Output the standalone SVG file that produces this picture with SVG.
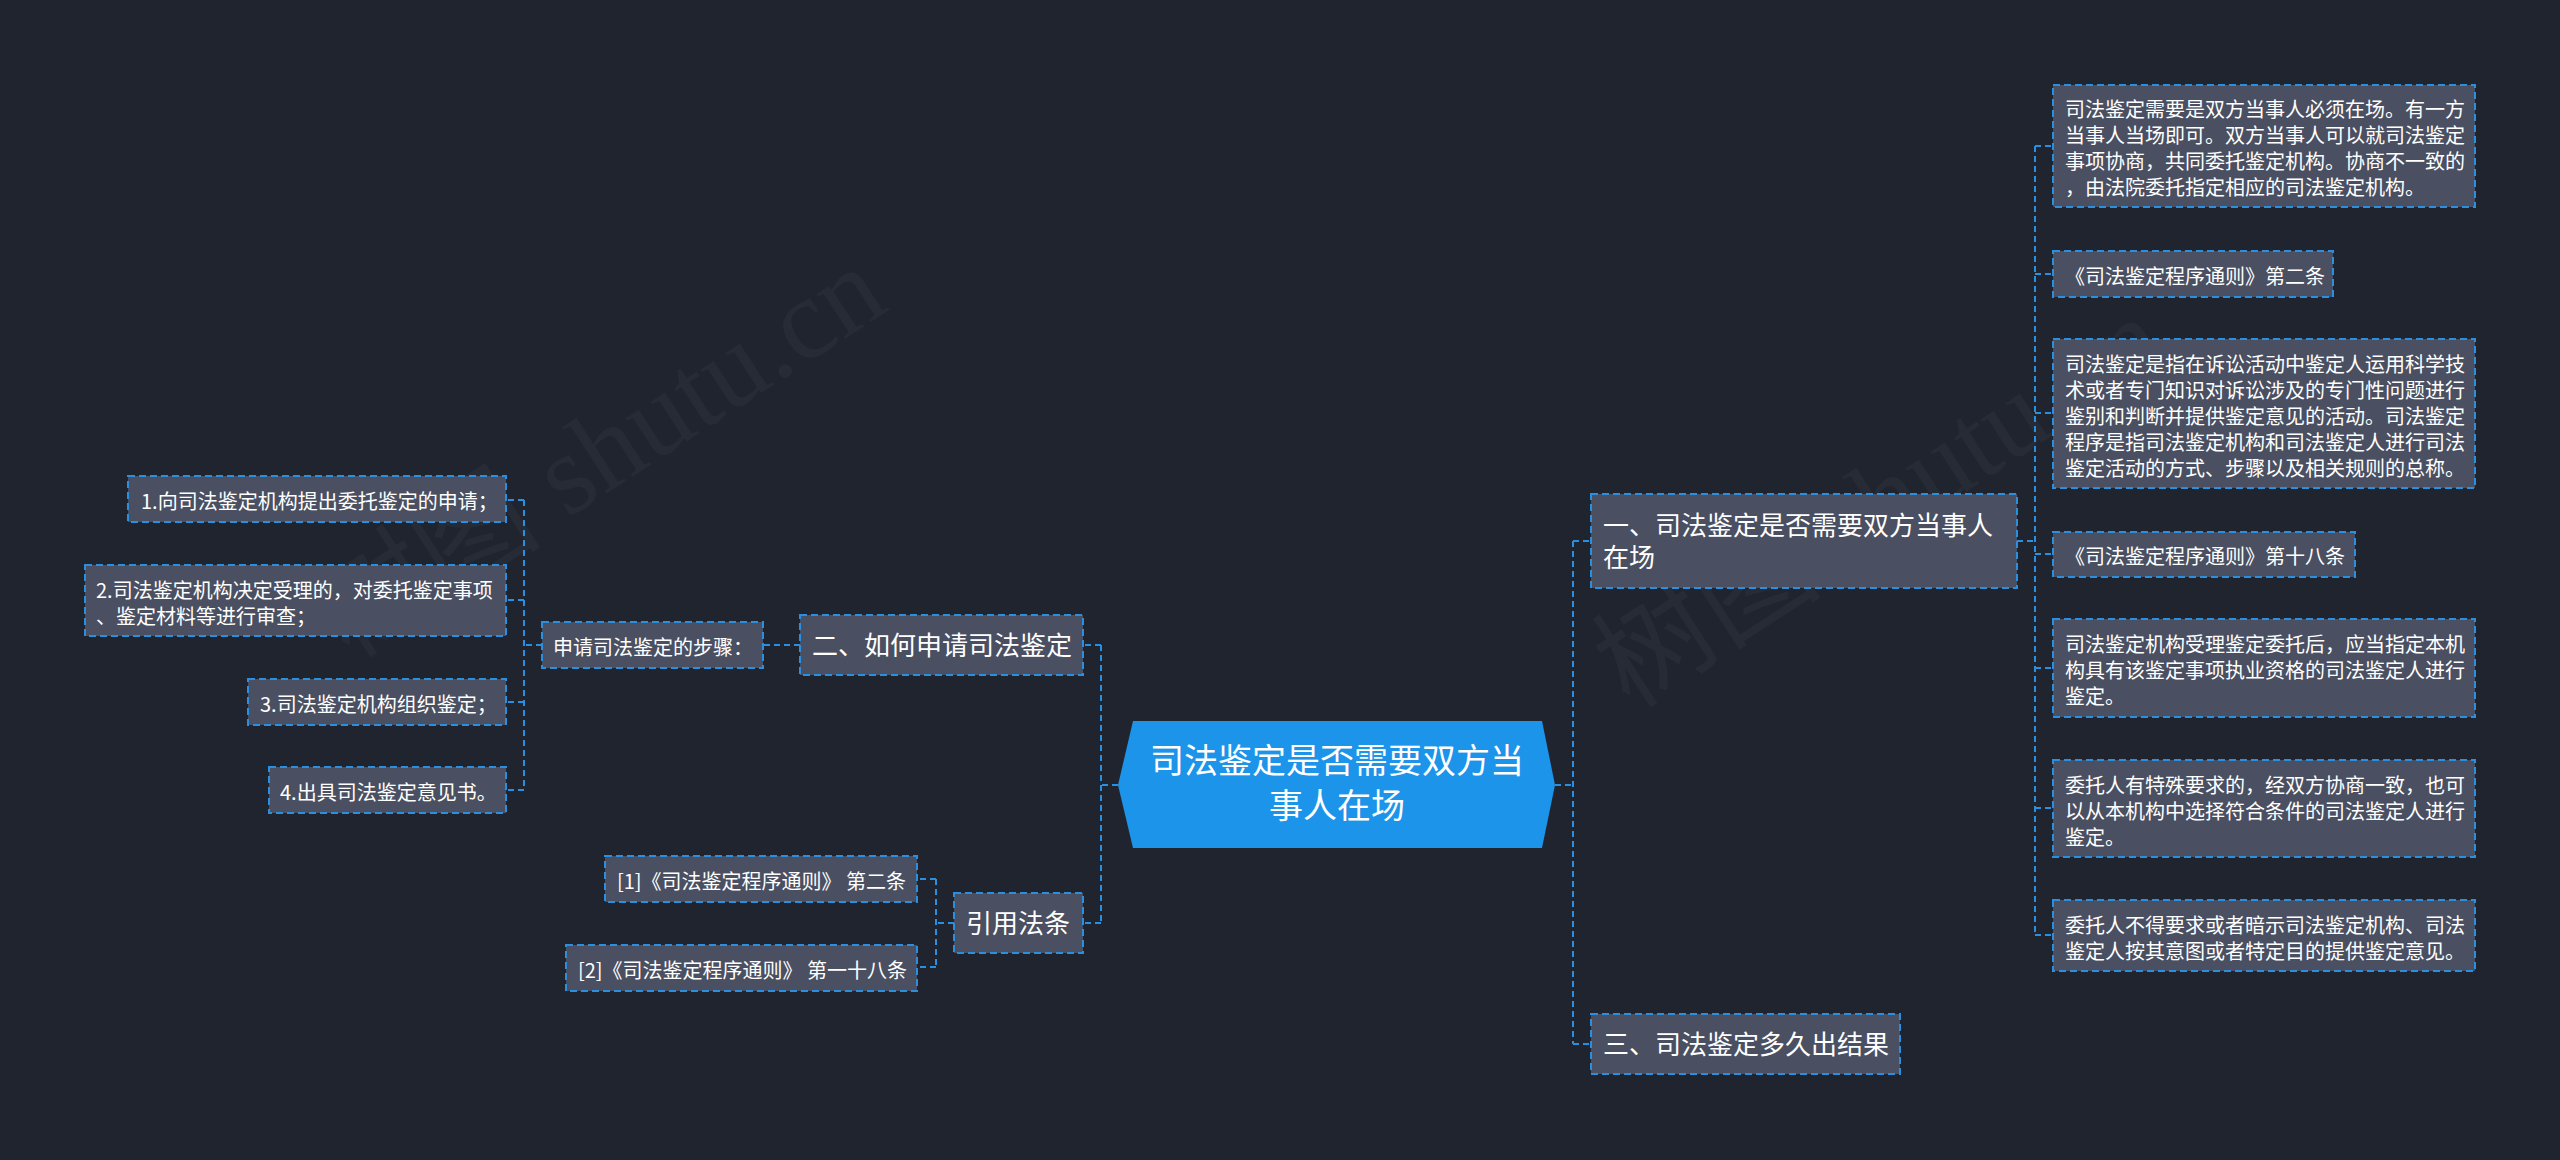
<svg xmlns="http://www.w3.org/2000/svg" width="2560" height="1160" viewBox="0 0 2560 1160">
<style>
.bg{fill:#20242f}
.box{fill:#4a5062;stroke:#2a8fdf;stroke-width:2;stroke-dasharray:7 4}
.root{fill:#1b94ea}
.t{font-family:"Noto Sans CJK SC","Noto Sans",sans-serif;fill:#ffffff}
.s{font-size:20px}
.m{font-size:26px}
.r{font-size:34px;text-anchor:middle}
.c{fill:none;stroke:#2a8fdf;stroke-width:2;stroke-dasharray:6 4}
.wm{font-family:"Liberation Serif","Noto Sans CJK SC",serif;font-size:115px;fill:#ffffff;fill-opacity:0.035}
</style>
<rect class="bg" x="0" y="0" width="2560" height="1160"/>
<g id="watermark">
<text class="wm" transform="translate(350,660) rotate(-33)">树图 shutu.cn</text>
<text class="wm" transform="translate(1630,710) rotate(-33)">树图 shutu.cn</text>
</g>
<g id="connectors">
<path class="c" d="M1118,785 H1101 M1101,645 V923 M1101,645 H1083 M1101,923 H1083"/>
<path class="c" d="M800,645 H763"/>
<path class="c" d="M542,645 H524 M524,500 V790 M524,500 H506 M524,600 H506 M524,702 H506 M524,790 H506"/>
<path class="c" d="M954,923 H936 M936,879 V967 M936,879 H917 M936,967 H917"/>
<path class="c" d="M1555,785 H1573 M1573,541 V1044 M1573,541 H1591 M1573,1044 H1591"/>
<path class="c" d="M2017,541 H2035 M2035,146 V935 M2035,146 H2053 M2035,274 H2053 M2035,413 H2053 M2035,554 H2053 M2035,668 H2053 M2035,808 H2053 M2035,935 H2053"/>
</g>
<g id="root">
<polygon class="root" points="1133,721 1542,721 1555,785 1542,848 1133,848 1118,785"/>
<text class="t r" x="1337" y="773">司法鉴定是否需要双方当</text>
<text class="t r" x="1337" y="818">事人在场</text>
</g>
<g id="n1">
<rect class="box" x="1591" y="494" width="426" height="94"/>
<text class="t m" x="1603" y="535">一、司法鉴定是否需要双方当事人</text>
<text class="t m" x="1603" y="567">在场</text>
</g>
<g id="n1a">
<rect class="box" x="2053" y="85" width="422" height="122"/>
<text class="t s" x="2065" y="117">司法鉴定需要是双方当事人必须在场。有一方</text>
<text class="t s" x="2065" y="143">当事人当场即可。双方当事人可以就司法鉴定</text>
<text class="t s" x="2065" y="169">事项协商，共同委托鉴定机构。协商不一致的</text>
<text class="t s" x="2065" y="195">，由法院委托指定相应的司法鉴定机构。</text>
</g>
<g id="n1b">
<rect class="box" x="2053" y="251" width="280" height="46"/>
<text class="t s" x="2065" y="284">《司法鉴定程序通则》第二条</text>
</g>
<g id="n1c">
<rect class="box" x="2053" y="339" width="422" height="149"/>
<text class="t s" x="2065" y="372">司法鉴定是指在诉讼活动中鉴定人运用科学技</text>
<text class="t s" x="2065" y="398">术或者专门知识对诉讼涉及的专门性问题进行</text>
<text class="t s" x="2065" y="424">鉴别和判断并提供鉴定意见的活动。司法鉴定</text>
<text class="t s" x="2065" y="450">程序是指司法鉴定机构和司法鉴定人进行司法</text>
<text class="t s" x="2065" y="476">鉴定活动的方式、步骤以及相关规则的总称。</text>
</g>
<g id="n1d">
<rect class="box" x="2053" y="532" width="302" height="45"/>
<text class="t s" x="2065" y="564">《司法鉴定程序通则》第十八条</text>
</g>
<g id="n1e">
<rect class="box" x="2053" y="619" width="422" height="98"/>
<text class="t s" x="2065" y="652">司法鉴定机构受理鉴定委托后，应当指定本机</text>
<text class="t s" x="2065" y="678">构具有该鉴定事项执业资格的司法鉴定人进行</text>
<text class="t s" x="2065" y="704">鉴定。</text>
</g>
<g id="n1f">
<rect class="box" x="2053" y="760" width="422" height="97"/>
<text class="t s" x="2065" y="793">委托人有特殊要求的，经双方协商一致，也可</text>
<text class="t s" x="2065" y="819">以从本机构中选择符合条件的司法鉴定人进行</text>
<text class="t s" x="2065" y="845">鉴定。</text>
</g>
<g id="n1g">
<rect class="box" x="2053" y="900" width="422" height="71"/>
<text class="t s" x="2065" y="933">委托人不得要求或者暗示司法鉴定机构、司法</text>
<text class="t s" x="2065" y="959">鉴定人按其意图或者特定目的提供鉴定意见。</text>
</g>
<g id="n3">
<rect class="box" x="1591" y="1014" width="309" height="60"/>
<text class="t m" x="1603" y="1054">三、司法鉴定多久出结果</text>
</g>
<g id="n2">
<rect class="box" x="800" y="615" width="283" height="60"/>
<text class="t m" x="812" y="655">二、如何申请司法鉴定</text>
</g>
<g id="n2a">
<rect class="box" x="542" y="622" width="221" height="46"/>
<text class="t s" x="553" y="655">申请司法鉴定的步骤：</text>
</g>
<g id="n2a1">
<rect class="box" x="128" y="476" width="378" height="46"/>
<text class="t s" x="141" y="509">1.向司法鉴定机构提出委托鉴定的申请；</text>
</g>
<g id="n2a2">
<rect class="box" x="85" y="565" width="421" height="71"/>
<text class="t s" x="96" y="598">2.司法鉴定机构决定受理的，对委托鉴定事项</text>
<text class="t s" x="96" y="624">、鉴定材料等进行审查；</text>
</g>
<g id="n2a3">
<rect class="box" x="248" y="679" width="258" height="46"/>
<text class="t s" x="260" y="712">3.司法鉴定机构组织鉴定；</text>
</g>
<g id="n2a4">
<rect class="box" x="269" y="767" width="237" height="46"/>
<text class="t s" x="280" y="800">4.出具司法鉴定意见书。</text>
</g>
<g id="n4">
<rect class="box" x="954" y="893" width="129" height="60"/>
<text class="t m" x="966" y="933">引用法条</text>
</g>
<g id="n4a">
<rect class="box" x="605" y="856" width="312" height="46"/>
<text class="t s" x="617" y="889">[1]《司法鉴定程序通则》 第二条</text>
</g>
<g id="n4b">
<rect class="box" x="566" y="945" width="351" height="46"/>
<text class="t s" x="578" y="978">[2]《司法鉴定程序通则》 第一十八条</text>
</g>
</svg>
